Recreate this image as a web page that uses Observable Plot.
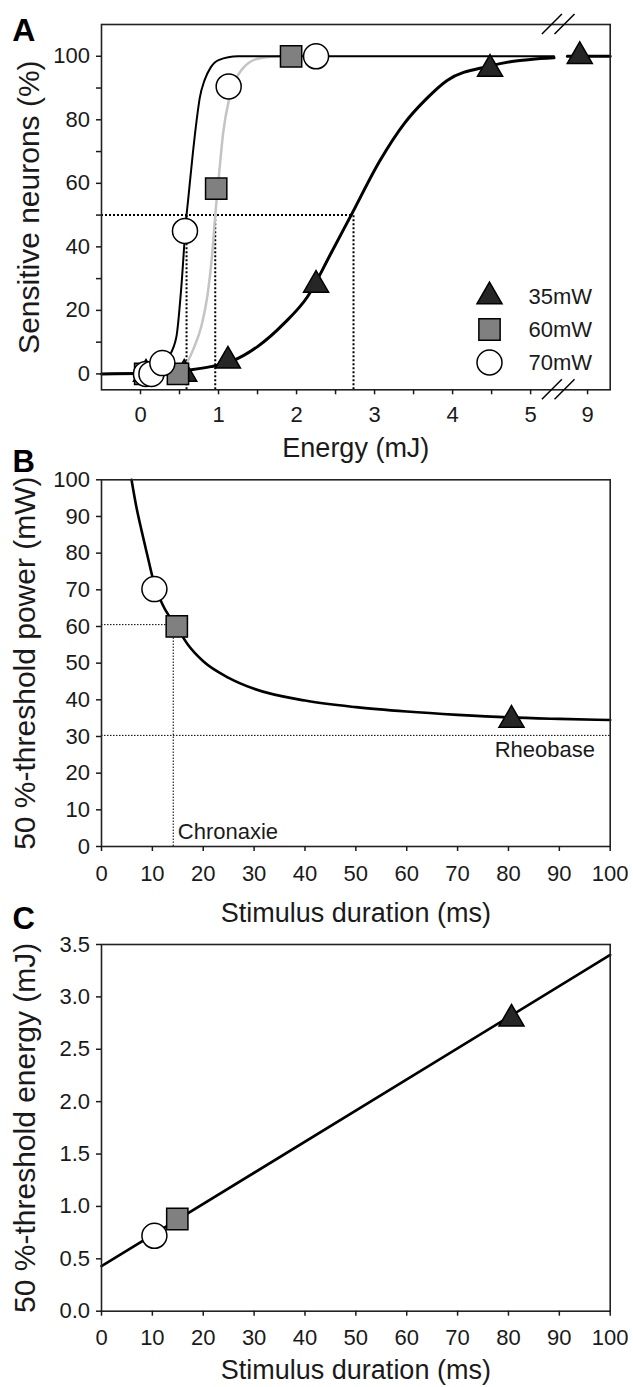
<!DOCTYPE html>
<html>
<head>
<meta charset="utf-8">
<script src="https://cdn.jsdelivr.net/npm/d3@7"></script>
<script src="https://cdn.jsdelivr.net/npm/@observablehq/plot@0.6"></script>
<style>
  html, body { margin: 0; padding: 0; background: #fff; }
  #wrap { position: relative; width: 633px; height: 1387px; overflow: hidden; }
  #wrap svg { position: absolute; left: 0; overflow: visible; }
</style>
</head>
<body>
<div id="wrap"></div>
<script>
// ---------------- DATA ----------------
// Panel A: % sensitive neurons vs energy (mJ); broken x axis (…5 // 9)
const tri35E = [0.07, 0.56, 1.12, 2.25, 4.48, 8.9];
const tri35V = [0, 0, 4.1, 28, 96, 100];
const sq60E  = [0.06, 0.48, 0.97, 1.93];
const sq60V  = [0, 0, 58.3, 100];
const circ70E = [0.07, 0.14, 0.28, 0.57, 1.13, 2.25];
const circ70V = [0, 0, 3.4, 45, 90.5, 100];

// fitted curves
const fit35E = [-0.5, 0, 0.3, 0.65, 0.9, 1.16, 1.5, 1.84, 2.14, 2.44, 2.7, 3.07, 3.38, 3.66, 3.93, 4.47, 4.74, 5.0, 5.3, NaN, 8.74, 9.29];
const fit35V = [0, 0.1, 0.4, 1.3, 2.3, 3.9, 8.6, 15.9, 24.3, 37.9, 50, 67.2, 78.8, 86.5, 92.4, 96.9, 98.3, 99.0, 99.5, NaN, 100, 100];
const fit60E = [0.45, 0.59, 0.69, 0.78, 0.86, 0.92, 0.958, 1.0, 1.06, 1.14, 1.29, 1.5, 1.76, 1.93];
const fit60V = [1, 3.4, 8.6, 15, 25, 38, 50, 61, 76, 87, 95.5, 99.2, 99.9, 100];
const fit70E = [-0.5, 0, 0.15, 0.27, 0.36, 0.46, 0.52, 0.59, 0.61, 0.67, 0.72, 0.76, 0.82, 0.9, 1.0, 1.25, 5.3];
const fit70V = [0, 0.2, 1, 3.4, 5.4, 11.7, 26.4, 50, 54.7, 69.3, 80, 87, 92.4, 96.5, 98.8, 100, 100];

const thr50E = [0.59, 0.958, 2.73];      // 50 % threshold energies
const xTickA = [0, 0.5, 1, 1.5, 2, 2.5, 3, 3.5, 4, 4.5, 5, 9];
const yTickA = [0, 10, 20, 30, 40, 50, 60, 70, 80, 90, 100];
const legendA = ["35mW", "60mW", "70mW"];
const breakAt = 5.36;           // axis break (display units)
const nineAt = 5.73;            // display position of the "9" tick

// Panel B: strength–duration
const durB = [10.4, 14.8, 80.6];
const powB = [70.2, 60.0, 34.5];
const curveBt = [5.9, 6.8, 7.9, 9.0, 10.4, 12.0, 14.8, 17, 20, 25, 30, 40, 50, 60, 70, 80, 90, 100];
const curveBp = [100, 93, 86, 79.5, 71.5, 66, 59.8, 55, 50.5, 46, 43, 39.8, 38, 36.8, 35.9, 35.2, 34.8, 34.5];
const rheobase = 30.3;
const chronaxie = 14.1;
const chronaxiePower = 60.5;
const ticks0to100 = [0, 10, 20, 30, 40, 50, 60, 70, 80, 90, 100];

// Panel C: threshold energy vs duration
const durC = [10.4, 14.9, 80.6];
const enC = [0.72, 0.88, 2.79];
const lineCx = [0, 100];
const lineCy = [0.43, 3.40];
const yTickC = [0, 0.5, 1, 1.5, 2, 2.5, 3, 3.5];

// ---------------- STYLE ----------------
const FONT = '"Liberation Sans", Arial, Helvetica, sans-serif';
const INK = "#1a1a1a";
const SYM = {
  "35mW": {symbol: "triangle", r: 9.3, fill: "#262626"},
  "60mW": {symbol: "square", r: 12, fill: "#808080"},
  "70mW": {symbol: "circle", r: 12.5, fill: "#ffffff"}
};
const baseStyle = {fontFamily: FONT, fontSize: "22px", color: INK, background: "transparent", overflow: "visible"};

// broken axis: values beyond the break are placed relative to the "9" tick
const disp = e => (e > 6 ? nineAt + (e - 9) : e);
const pts = (xs, ys, f = d => d) => xs.map((x, i) => ({x: f(x), y: ys[i]}));

function dotsFor(name, data, opts = {}) {
  const s = SYM[name];
  return Plot.dot(data, {x: "x", y: "y", symbol: s.symbol, r: s.r, fill: s.fill, stroke: "#000", strokeWidth: 1.5, ...opts});
}
const yTitle = (t, dx) => Plot.text([t], {text: d => d, frameAnchor: "left", dx, rotate: -90, textAnchor: "middle", lineAnchor: "bottom", fontSize: 30, fill: INK});
const xTitle = (t, dy) => Plot.text([t], {text: d => d, frameAnchor: "bottom", dy, textAnchor: "middle", lineAnchor: "bottom", fontSize: 27, fill: INK});
const letter = (t, dy, size) => Plot.text([t], {text: d => d, frameAnchor: "top-left", dx: -77.8, dy, textAnchor: "middle", lineAnchor: "bottom", fontSize: size, fontWeight: "bold", fill: "#000"});

const wrap = document.getElementById("wrap");

// ---------------- PANEL A ----------------
const W = 633, ML = 101, MR = 23.3;
const xLabelMap = new Map(xTickA.map(v => [disp(v), Number.isInteger(v) ? String(v) : ""]));

const plotA = Plot.plot({
  width: W, height: 466,
  marginLeft: ML, marginRight: MR, marginTop: 24, marginBottom: 76.7,
  style: baseStyle,
  x: {domain: [-0.5, 6.02]},
  y: {domain: [-5, 110]},
  marks: [
    Plot.ruleY([50], {x1: -0.5, x2: thr50E[2], stroke: "#000", strokeWidth: 2, strokeDasharray: "2,2"}),
    Plot.ruleX(thr50E, {y1: -5, y2: 50, stroke: "#000", strokeWidth: 2, strokeDasharray: "2,2"}),
    Plot.line(pts(fit60E, fit60V), {x: "x", y: "y", curve: "monotone-x", stroke: "#c4c4c4", strokeWidth: 2.5}),
    Plot.line(pts(fit70E, fit70V), {x: "x", y: "y", curve: "monotone-x", stroke: "#000", strokeWidth: 2}),
    Plot.line(pts(fit35E, fit35V, disp), {x: "x", y: "y", curve: "monotone-x", stroke: "#000", strokeWidth: 3}),
    dotsFor("35mW", pts(tri35E, tri35V, disp)),
    dotsFor("60mW", pts(sq60E, sq60V)),
    dotsFor("70mW", pts(circ70E, circ70V)),
    // legend
    ...legendA.map((name, i) => {
      const s = SYM[name];
      return Plot.dot([name], {frameAnchor: "bottom-right", dx: -120.7, dy: -27.3 - (legendA.length - 1 - i) * 33,
        symbol: s.symbol, r: s.r, fill: s.fill, stroke: "#000", strokeWidth: 1.5});
    }),
    ...legendA.map((name, i) => Plot.text([name], {text: d => d, frameAnchor: "bottom-right", dx: -81.7,
      dy: -27.3 - (legendA.length - 1 - i) * 33, textAnchor: "start", lineAnchor: "middle", fontSize: 22, fill: INK})),
    Plot.frame({stroke: "#222", strokeWidth: 1.6}),
    Plot.axisX({ticks: xTickA.map(disp), tickFormat: d => xLabelMap.get(d), tickSize: 5, tickPadding: 11.5, strokeWidth: 1.5, label: null}),
    Plot.axisY({ticks: yTickA, tickFormat: d => (d % 20 === 0 ? String(d) : ""), tickSize: 5, tickPadding: 6.5, strokeWidth: 1.5, label: null}),
    xTitle("Energy (mJ)", 67.4),
    yTitle("Sensitive neurons (%)", -62.5),
    letter("A", 16, 32)
  ]
});
plotA.style.top = "0px";
wrap.appendChild(plotA);

// axis break marks drawn with the plot's own scales
{
  const sx = plotA.scale("x"), sy = plotA.scale("y");
  const bx = sx.apply(breakAt);
  const g = d3.select(plotA).append("g").attr("stroke", "#000").attr("stroke-width", 1.5);
  for (const yv of sy.domain) {
    const by = sy.apply(yv);
    for (const off of [-6.3, 6.3]) {
      g.append("line").attr("x1", bx + off - 10).attr("y1", by + 10).attr("x2", bx + off + 10).attr("y2", by - 10);
    }
  }
}

// ---------------- PANEL B ----------------
const plotB = Plot.plot({
  width: W, height: 464,
  marginLeft: ML, marginRight: MR, marginTop: 13.3, marginBottom: 84,
  style: baseStyle,
  x: {domain: [0, 100]},
  y: {domain: [0, 100]},
  marks: [
    Plot.ruleY([rheobase], {x1: 0, x2: 100, stroke: "#000", strokeWidth: 1, strokeDasharray: "1.5,1.5"}),
    Plot.ruleY([chronaxiePower], {x1: 0, x2: chronaxie, stroke: "#000", strokeWidth: 1, strokeDasharray: "1.5,1.5"}),
    Plot.ruleX([chronaxie], {y1: 0, y2: chronaxiePower, stroke: "#000", strokeWidth: 1, strokeDasharray: "1.5,1.5"}),
    Plot.line(pts(curveBt, curveBp), {x: "x", y: "y", curve: "monotone-x", stroke: "#000", strokeWidth: 2.6}),
    dotsFor("35mW", [{x: durB[2], y: powB[2]}]),
    dotsFor("60mW", [{x: durB[1], y: powB[1]}]),
    dotsFor("70mW", [{x: durB[0], y: powB[0]}]),
    Plot.text(["Chronaxie"], {text: d => d, x: chronaxie + 0.9, y: 3.9, textAnchor: "start", lineAnchor: "middle", fontSize: 22, fill: INK}),
    Plot.text(["Rheobase"], {text: d => d, x: 97, y: 26.4, textAnchor: "end", lineAnchor: "middle", fontSize: 22, fill: INK}),
    Plot.frame({stroke: "#222", strokeWidth: 1.6}),
    Plot.axisX({ticks: ticks0to100, tickSize: 5, tickPadding: 14, strokeWidth: 1.5, label: null}),
    Plot.axisY({ticks: ticks0to100, tickSize: 5, tickPadding: 6.5, strokeWidth: 1.5, label: null}),
    xTitle("Stimulus duration (ms)", 75),
    yTitle("50 %-threshold power (mW)", -66.3),
    letter("B", -7.6, 31)
  ]
});
plotB.style.top = "466px";
wrap.appendChild(plotB);

// ---------------- PANEL C ----------------
const plotC = Plot.plot({
  width: W, height: 457,
  marginLeft: ML, marginRight: MR, marginTop: 14, marginBottom: 76.3,
  style: baseStyle,
  x: {domain: [0, 100]},
  y: {domain: [0, 3.5]},
  marks: [
    Plot.line(pts(lineCx, lineCy), {x: "x", y: "y", stroke: "#000", strokeWidth: 2.6}),
    dotsFor("35mW", [{x: durC[2], y: enC[2]}]),
    dotsFor("60mW", [{x: durC[1], y: enC[1]}]),
    dotsFor("70mW", [{x: durC[0], y: enC[0]}]),
    Plot.frame({stroke: "#222", strokeWidth: 1.6}),
    Plot.axisX({ticks: ticks0to100, tickSize: 5, tickPadding: 13.5, strokeWidth: 1.5, label: null}),
    Plot.axisY({ticks: yTickC, tickFormat: d3.format(".1f"), tickSize: 5, tickPadding: 6.5, strokeWidth: 1.5, label: null}),
    xTitle("Stimulus duration (ms)", 67.3),
    yTitle("50 %-threshold energy (mJ)", -66.3),
    letter("C", -16, 31)
  ]
});
plotC.style.top = "930px";
wrap.appendChild(plotC);
</script>
</body>
</html>
